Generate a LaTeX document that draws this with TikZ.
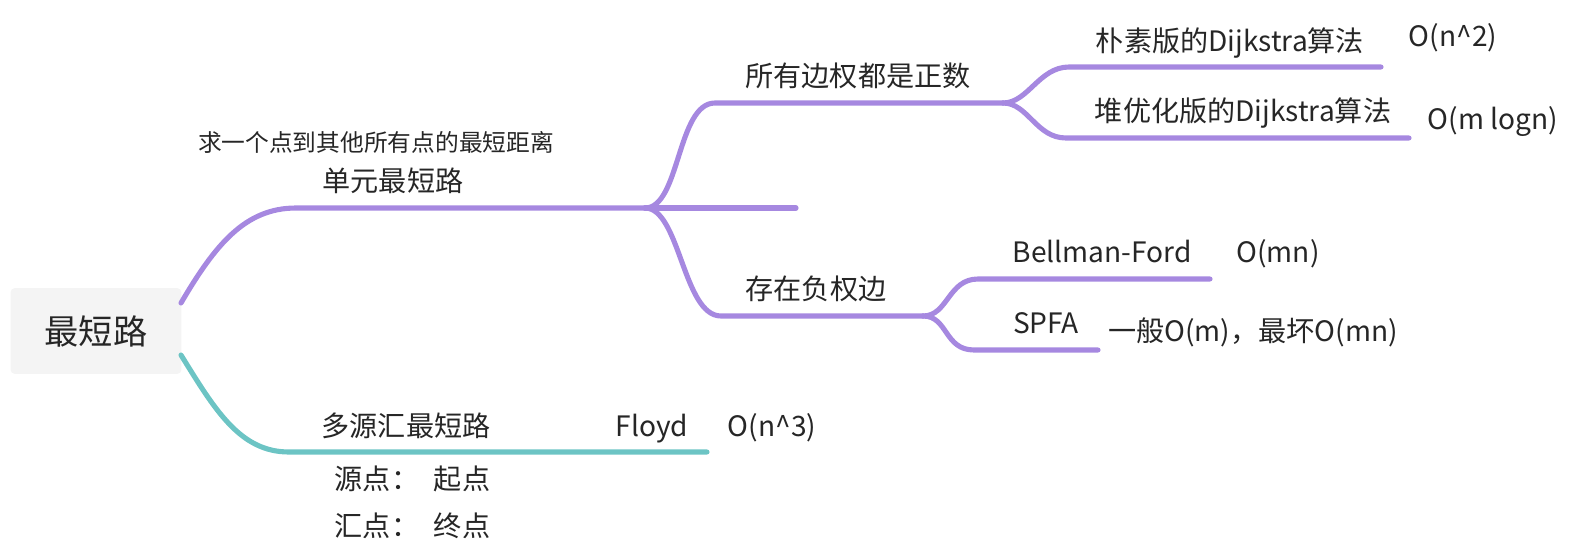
\documentclass[tikz,border=0pt]{standalone}
\usepackage{fontspec}
\setmainfont{Noto Sans CJK SC}
\definecolor{branchpurple}{HTML}{A688E0}
\definecolor{branchteal}{HTML}{6CC4C4}
\definecolor{rootgray}{HTML}{F4F4F4}
\definecolor{txt}{HTML}{262626}
\begin{document}
\begin{tikzpicture}[x=0.02cm, y=-0.02cm,
  pline/.style={line width=2.9pt, branchpurple, line cap=round},
  tline/.style={line width=2.9pt, branchteal, line cap=round},
  lbl/.style={text=txt, inner sep=0pt, yshift=-1.6pt, text height=0.85em, text depth=0.12em, font=\fontsize{16}{19}\selectfont},
  note/.style={lbl, font=\fontsize{13.5}{16}\selectfont},
  rootbox/.style={fill=rootgray, rounded corners=2.5pt, minimum width=3.42cm, minimum height=1.72cm, text=txt, font=\fontsize{19.5}{23}\selectfont}]
  \useasboundingbox (0,0) rectangle (1581,551);
  % root
  \node[rootbox] (root) at (96,331) {最短路};
  \coordinate (r1) at (181,303);
  \coordinate (r2) at (181,355);
  % points of the branches
  \coordinate (s0) at (296,208);  \coordinate (s1) at (645,208);  \coordinate (se) at (796,208);
  \coordinate (p0) at (715,103);  \coordinate (p1) at (1003,103);
  \coordinate (n0) at (721,316);  \coordinate (n1) at (923,316);
  \coordinate (d0) at (1069,67);  \coordinate (d1) at (1381,67);
  \coordinate (h0) at (1066,138); \coordinate (h1) at (1409,138);
  \coordinate (b0) at (978,279);  \coordinate (b1) at (1210,279);
  \coordinate (f0) at (974,350);  \coordinate (f1) at (1098,350);
  \coordinate (m0) at (289,452);  \coordinate (m1) at (707,452);
  % labels
  \node[note] (single-note) at (376,142) {求一个点到其他所有点的最短距离};
  \node[lbl] (single) at (393,182) {单元最短路};
  \node[lbl] (pos) at (858,77) {所有边权都是正数};
  \node[lbl] (naive) at (1230,42) {朴素版的Dijkstra算法};
  \node[lbl] (naive-c) at (1453,37) {O(n\textasciicircum{}2)};
  \node[lbl] (heap) at (1243,112) {堆优化版的Dijkstra算法};
  \node[lbl] (heap-c) at (1493,120) {O(m logn)};
  \node[lbl] (neg) at (816,290) {存在负权边};
  \node[lbl] (bf) at (1102,253) {Bellman-Ford};
  \node[lbl] (bf-c) at (1278,253) {O(mn)};
  \node[lbl] (spfa) at (1046,324) {SPFA};
  \node[lbl] (spfa-c) at (1253,332) {一般O(m)，最坏O(mn)};
  \node[lbl] (multi) at (406,427) {多源汇最短路};
  \node[lbl] (floyd) at (652,427) {Floyd};
  \node[lbl] (floyd-c) at (772,427) {O(n\textasciicircum{}3)};
  \node[lbl] (src) at (377,480) {源点：};
  \node[lbl] (src-v) at (462,480) {起点};
  \node[lbl] (snk) at (377,527) {汇点：};
  \node[lbl] (snk-v) at (462,527) {终点};
  % branches
  \draw[pline] (r1) .. controls (215,245) and (245,208) .. (s0) -- (s1);
  \draw[pline] (s1) -- (se);
  \draw[pline] (s1) .. controls +(35,0) and +(-38,0) .. (p0) -- (p1);
  \draw[pline] (s1) .. controls +(35,0) and +(-38,0) .. (n0) -- (n1);
  \draw[pline] (p1) .. controls +(25,0) and +(-30,0) .. (d0) -- (d1);
  \draw[pline] (p1) .. controls +(25,0) and +(-30,0) .. (h0) -- (h1);
  \draw[pline] (n1) .. controls +(25,0) and +(-30,0) .. (b0) -- (b1);
  \draw[pline] (n1) .. controls +(25,0) and +(-30,0) .. (f0) -- (f1);
  \draw[tline] (r2) .. controls (215,410) and (240,452) .. (m0) -- (m1);
\end{tikzpicture}
\end{document}
